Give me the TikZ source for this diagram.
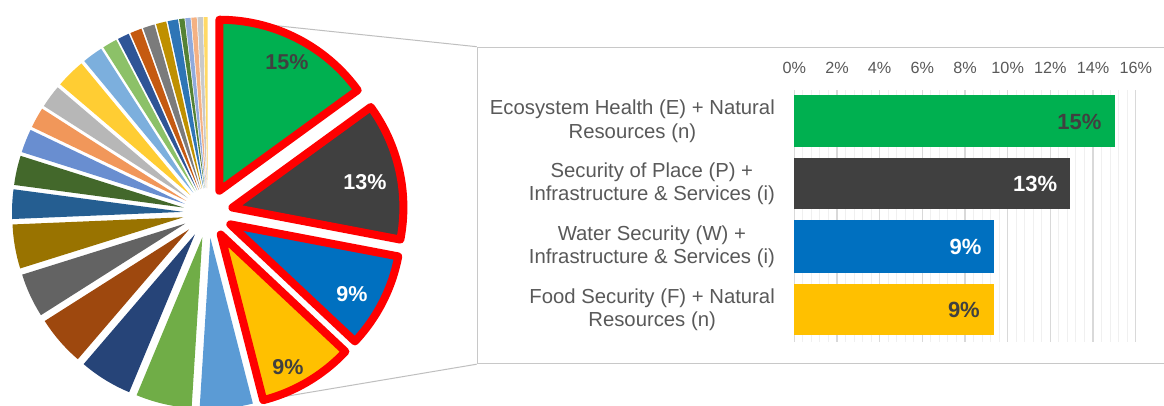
\documentclass[tikz,border=0pt]{standalone}
\usepackage{fontspec}
\setmainfont{Liberation Sans}
\usetikzlibrary{calc}
\definecolor{cGreen}{HTML}{00B050}
\definecolor{cDark}{HTML}{404040}
\definecolor{cBlue}{HTML}{0070C0}
\definecolor{cYellow}{HTML}{FFC000}
\definecolor{sA}{HTML}{5B9BD5}
\definecolor{sB}{HTML}{70AD47}
\definecolor{sC}{HTML}{264478}
\definecolor{sD}{HTML}{9E480E}
\definecolor{sE}{HTML}{636363}
\definecolor{sF}{HTML}{997300}
\definecolor{sG}{HTML}{255E91}
\definecolor{sH}{HTML}{43682B}
\definecolor{sI}{HTML}{698ED0}
\definecolor{sJ}{HTML}{F1975A}
\definecolor{sK}{HTML}{B7B7B7}
\definecolor{sL}{HTML}{FFCD33}
\definecolor{sM}{HTML}{7CAFDD}
\definecolor{sN}{HTML}{8CC168}
\definecolor{sO}{HTML}{2F5597}
\definecolor{sP}{HTML}{C55A11}
\definecolor{sQ}{HTML}{7B7B7B}
\definecolor{sR}{HTML}{BF9000}
\definecolor{sS}{HTML}{2E75B6}
\definecolor{sT}{HTML}{548235}
\definecolor{sU}{HTML}{8FAADC}
\definecolor{sV}{HTML}{F4B183}
\definecolor{sW}{HTML}{C9C9C9}
\definecolor{sX}{HTML}{FFD966}
\definecolor{txtgray}{HTML}{595959}
\definecolor{boxgray}{HTML}{C8C8C8}
\definecolor{linegray}{HTML}{BFBFBF}
\definecolor{majgrid}{HTML}{D9D9D9}
\definecolor{mingrid}{HTML}{F0F0F0}
\newcommand{\pslice}[4][]{%
  \pgfmathsetmacro{\pmid}{(#3+#4)/2}%
  \path[fill=#2, #1, shift={(\pmid:25)}] (0,0) -- (#3:171) arc[start angle=#3, end angle=#4, radius=171] -- cycle;}
\tikzset{
  piec/.style={shift={(208,213)}, y=1pt},
  conn/.style={draw=linegray, line width=1pt},
  boxframe/.style={draw=boxgray, line width=1.5pt, minimum width=700pt, minimum height=316pt, anchor=north west, inner sep=0pt},
  catlbl/.style={anchor=east, align=center, inner sep=0pt, text=txtgray, font=\fontsize{20.3}{23.3}\selectfont},
  axlbl/.style={inner sep=0pt, text=txtgray, font=\fontsize{16.2}{18}\selectfont},
  vallbl/.style={anchor=east, inner sep=0pt, font=\bfseries\fontsize{22}{24}\selectfont},
  pielbl/.style={inner sep=0pt, font=\bfseries\fontsize{21.5}{24}\selectfont},
  hl/.style={draw=red, line width=8pt, line join=round},
  mingridline/.style={draw=mingrid, line width=1pt},
  majgridline/.style={draw=majgrid, line width=1.2pt},
}
\begin{document}
\begin{tikzpicture}[x=1pt, y=-1pt]
\useasboundingbox (0,0) rectangle (1164,405);
\clip (0,0) rectangle (1164,405);
\fill[white] (0,0) rectangle (1164,405);

% frame of the bar chart
\node[boxframe] (box) at (476.7,46.7) {};

% anchor points on the pie
\begin{scope}[piec]
  \coordinate (gtop) at ($(63:25)+(90:171)$);
  \coordinate (ybot) at ($(-59.4:25)+(-75.6:171)$);
\end{scope}
\draw[conn] (gtop) -- (box.north west);
\draw[conn] (ybot) -- (box.south west);

% pie
\begin{scope}[piec]
  \pslice{sA}{-75.6}{-93.6}
  \pslice{sB}{-93.6}{-112.6}
  \pslice{sC}{-112.6}{-130.6}
  \pslice{sD}{-130.6}{-147.6}
  \pslice{sE}{-147.6}{-162.6}
  \pslice{sF}{-162.6}{-177.6}
  \pslice{sG}{-177.6}{-187.6}
  \pslice{sH}{-187.6}{-197.6}
  \pslice{sI}{-197.6}{-205.6}
  \pslice{sJ}{-205.6}{-212.6}
  \pslice{sK}{-212.6}{-220.4}
  \pslice{sL}{-220.4}{-230.4}
  \pslice{sM}{-230.4}{-237.4}
  \pslice{sN}{-237.4}{-242.4}
  \pslice{sO}{-242.4}{-246.4}
  \pslice{sP}{-246.4}{-250.4}
  \pslice{sQ}{-250.4}{-254.4}
  \pslice{sR}{-254.4}{-257.9}
  \pslice{sS}{-257.9}{-261.4}
  \pslice{sT}{-261.4}{-263.2}
  \pslice{sU}{-263.2}{-265}
  \pslice{sV}{-265}{-266.8}
  \pslice{sW}{-266.8}{-268.6}
  \pslice{sX}{-268.6}{-270}
  \pslice[hl]{cGreen}{90}{36}
  \pslice[hl]{cDark}{36}{-10.8}
  \pslice[hl]{cBlue}{-10.8}{-43.2}
  \pslice[hl]{cYellow}{-43.2}{-75.6}
\end{scope}
\node[pielbl, text=cDark] (p1) at (287,62) {15\%};
\node[pielbl, text=white] (p2) at (365,182) {13\%};
\node[pielbl, text=white] (p3) at (352,294) {9\%};
\node[pielbl, text=cDark] (p4) at (288,367) {9\%};

% gridlines
\foreach \i in {1,...,40} {\draw[mingridline] ({794.3+8.5355*\i},90) -- ++(0,251.7);}
\foreach \i in {1,...,8} {\draw[majgridline] ({794.3+42.6775*\i},90) -- ++(0,251.7);}
\draw[majgridline] (794.3,90) -- ++(0,251.7);
\foreach \v [count=\i from 0] in {0,2,...,16} {\node[axlbl] (ax\i) at ({794.3+42.6775*\i},68.3) {\v\%};}

% bars
\fill[cGreen]  (794.3,94.5)  rectangle (1115.0,147.2);
\fill[cDark]   (794.3,157.6) rectangle (1070.3,209.4);
\fill[cBlue]   (794.3,220.3) rectangle (994.3,272.7);
\fill[cYellow] (794.3,283.6) rectangle (993.7,335.1);
\node[vallbl, text=cDark] (v1) at (1101.7,121.5) {15\%};
\node[vallbl, text=white] (v2) at (1057.3,184.0) {13\%};
\node[vallbl, text=white] (v3) at (981.7,246.8) {9\%};
\node[vallbl, text=cDark] (v4) at (980.0,310.0) {9\%};

% category labels
\node[catlbl] (c1) at (775,121.2) {Ecosystem Health (E) + Natural\\Resources (n)};
\node[catlbl] (c2) at (775,183.8) {Security of Place (P) +\\Infrastructure \& Services (i)};
\node[catlbl] (c3) at (775,246.6) {Water Security (W) +\\Infrastructure \& Services (i)};
\node[catlbl] (c4) at (775,309.4) {Food Security (F) + Natural\\Resources (n)};
\end{tikzpicture}
\end{document}
